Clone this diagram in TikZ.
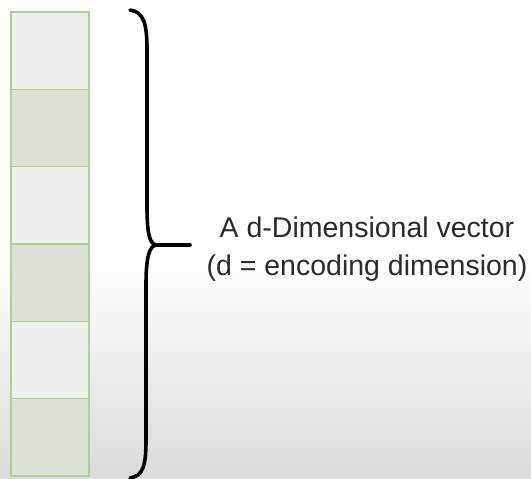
\documentclass[tikz,border=0pt]{standalone}
\usepackage{fontspec}
\setmainfont{Liberation Sans}
\usetikzlibrary{positioning}

\definecolor{cellborder}{HTML}{AFCD98}
\definecolor{celllight}{HTML}{EEF0EB}
\definecolor{celldark}{HTML}{DCE3D6}
\definecolor{bggrey}{HTML}{DADADA}
\definecolor{labeltext}{HTML}{2B2B2B}

\begin{document}
\begin{tikzpicture}[x=1pt,y=-1pt,
  cell/.style={draw=cellborder, line width=1.4pt, minimum width=78pt,
    minimum height=77.3pt, inner sep=0pt, outer sep=0pt},
  brace/.style={line width=3.6pt, line cap=round, line join=round},
  desc/.style={align=center, text=labeltext,
    font=\fontsize{28.5}{38}\selectfont}]
  % page, white fading into grey towards the bottom
  \useasboundingbox (0,0) rectangle (531,479);
  \fill[white] (0,0) rectangle (531,262);
  \shade[top color=white, bottom color=bggrey] (0,261) rectangle (531,479);

  % the vector, one cell per entry
  \foreach \i/\tone in {1/celllight,2/celldark,3/celllight,4/celldark,5/celllight,6/celldark}
    \node[cell, fill=\tone] (c\i) at (50,12+77.3*\i-38.65) {};

  % curly brace
  \coordinate (tip) at (157,245);
  \coordinate (tipend) at (190,245);
  \draw[brace] (130,10) .. controls (144,12) and (147,24) .. (147,50)
    -- (147,205) .. controls (147,232) and (149,245) .. (tip)
    .. controls (149,245) and (146,258) .. (146,285)
    -- (146,440) .. controls (146,466) and (143,476) .. (130,478);
  \draw[brace] (tip) -- (tipend);

  \node[desc] (label) at (367,249) {A d-Dimensional vector\\(d = encoding dimension)};
\end{tikzpicture}
\end{document}
